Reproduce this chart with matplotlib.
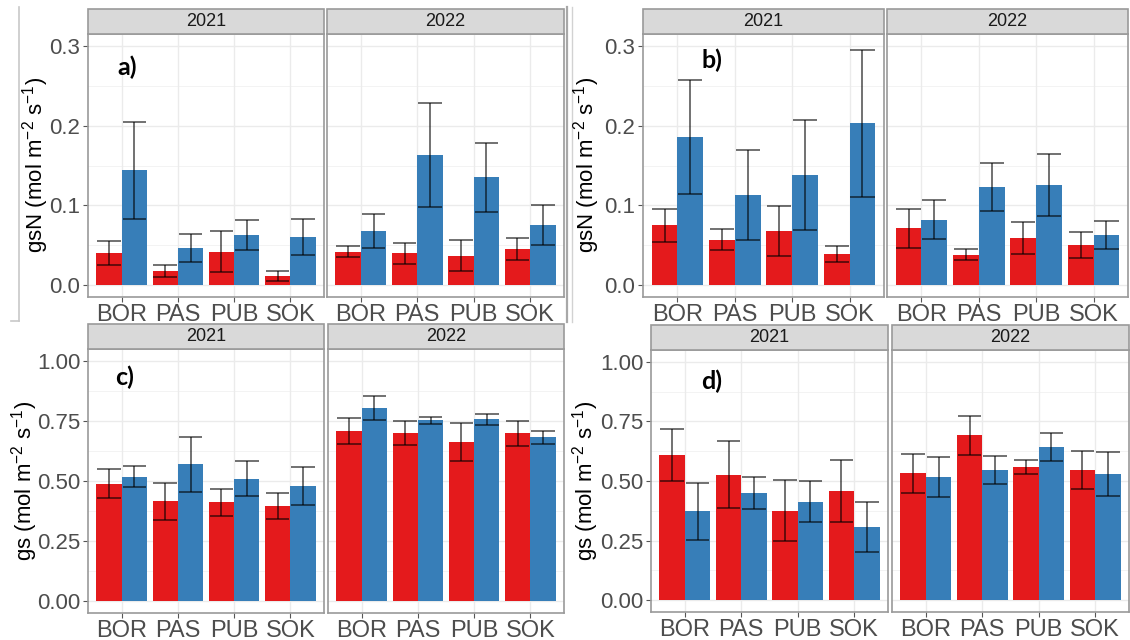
import matplotlib
matplotlib.use("Agg")
import matplotlib.pyplot as plt
from matplotlib.patches import Rectangle
from matplotlib.lines import Line2D
import numpy as np

plt.rcParams["font.family"] = ["Liberation Sans", "DejaVu Sans"]
plt.rcParams["mathtext.default"] = "regular"

# ---- data -------------------------------------------------------------
sites = ["BOR", "PAS", "PUB", "SOK"]
years = ["2021", "2022"]

# panel a: gsN
a_red_mean = {"2021": [0.040, 0.018, 0.042, 0.011], "2022": [0.042, 0.040, 0.037, 0.045]}
a_red_se = {"2021": [0.015, 0.0075, 0.026, 0.006], "2022": [0.0065, 0.013, 0.019, 0.0135]}
a_blue_mean = {"2021": [0.144, 0.046, 0.063, 0.060], "2022": [0.068, 0.163, 0.135, 0.075]}
a_blue_se = {"2021": [0.061, 0.0175, 0.019, 0.0225], "2022": [0.0215, 0.065, 0.0435, 0.025]}

# panel b: gsN
b_red_mean = {"2021": [0.075, 0.057, 0.068, 0.039], "2022": [0.071, 0.038, 0.059, 0.050]}
b_red_se = {"2021": [0.0205, 0.013, 0.0315, 0.0105], "2022": [0.025, 0.007, 0.0205, 0.016]}
b_blue_mean = {"2021": [0.186, 0.113, 0.138, 0.203], "2022": [0.082, 0.123, 0.126, 0.063]}
b_blue_se = {"2021": [0.0715, 0.056, 0.069, 0.0925], "2022": [0.0245, 0.030, 0.039, 0.0175]}

# panel c: gs
c_red_mean = {"2021": [0.489, 0.415, 0.411, 0.396], "2022": [0.708, 0.700, 0.663, 0.699]}
c_red_se = {"2021": [0.061, 0.0765, 0.055, 0.0525], "2022": [0.0535, 0.051, 0.0795, 0.0525]}
c_blue_mean = {"2021": [0.517, 0.569, 0.510, 0.479], "2022": [0.806, 0.753, 0.757, 0.683]}
c_blue_se = {"2021": [0.0435, 0.1145, 0.073, 0.081], "2022": [0.050, 0.014, 0.024, 0.027]}

# panel d: gs
d_red_mean = {"2021": [0.608, 0.526, 0.376, 0.459], "2022": [0.533, 0.692, 0.559, 0.547]}
d_red_se = {"2021": [0.109, 0.140, 0.128, 0.130], "2022": [0.0815, 0.082, 0.028, 0.0795]}
d_blue_mean = {"2021": [0.373, 0.449, 0.413, 0.306], "2022": [0.517, 0.547, 0.641, 0.529]}
d_blue_se = {"2021": [0.120, 0.0685, 0.086, 0.105], "2022": [0.0845, 0.060, 0.059, 0.091]}

gsn_ticks = [0.0, 0.1, 0.2, 0.3]
gsn_ticklabels = ["0.0", "0.1", "0.2", "0.3"]
gs_ticks = [0.0, 0.25, 0.5, 0.75, 1.0]
gs_ticklabels = ["0.00", "0.25", "0.50", "0.75", "1.00"]

RED = "#E41A1C"
BLUE = "#377EB8"

W, H = 1130, 640
fig = plt.figure(figsize=(W / 100, H / 100), dpi=100)
fig.patch.set_facecolor("white")


def fx(px):
    return px / W


def fy(py):
    return 1 - py / H


def draw_facet(x0, x1, ytop, ybot, strip_top, year, rm, rs, bm, bs,
               ylim, ticks, ticklabels, minor, show_y):
    ax = fig.add_axes([fx(x0), fy(ybot), fx(x1 - x0), (ybot - ytop) / H])
    ax.set_xlim(0.4, 4.6)
    ax.set_ylim(*ylim)
    ax.set_axisbelow(True)
    pos = np.arange(1, len(sites) + 1)
    for t in minor:
        ax.axhline(t, color="#F3F3F3", lw=0.7, zorder=0)
    for t in ticks:
        ax.axhline(t, color="#EBEBEB", lw=1.0, zorder=0)
    for p in pos:
        ax.axvline(p, color="#EBEBEB", lw=1.0, zorder=0)
    bw = 0.45
    for means, ses, col, off in ((rm, rs, RED, -bw / 2), (bm, bs, BLUE, bw / 2)):
        xs = pos + off
        ax.bar(xs, means, width=bw, color=col, edgecolor="none", zorder=2)
        m = np.asarray(means)
        s = np.asarray(ses)
        ax.vlines(xs, m - s, m + s, color="black", alpha=0.6, lw=1.3, zorder=3)
        ax.hlines(m - s, xs - 0.21, xs + 0.21, color="black", alpha=0.6, lw=1.3, zorder=3)
        ax.hlines(m + s, xs - 0.21, xs + 0.21, color="black", alpha=0.6, lw=1.3, zorder=3)
    ax.set_xticks(pos)
    ax.set_xticklabels(sites, fontsize=17, color="#4D4D4D")
    ax.set_yticks(ticks)
    if show_y:
        ax.set_yticklabels(ticklabels, fontsize=16, color="#4D4D4D")
        ax.tick_params(axis="y", length=3.5, width=0.8, color="#555555", pad=2)
    else:
        ax.tick_params(axis="y", length=0, labelleft=False)
    ax.tick_params(axis="x", length=3.5, width=0.8, color="#555555", pad=1.5)
    for sp in ax.spines.values():
        sp.set_color("#9A9A9A")
        sp.set_linewidth(1.2)
    # facet strip
    fig.patches.append(Rectangle((fx(x0), fy(ytop)), fx(x1 - x0), (ytop - strip_top) / H,
                                 transform=fig.transFigure, facecolor="#D9D9D9",
                                 edgecolor="#9A9A9A", lw=1.2, zorder=5))
    fig.text(fx((x0 + x1) / 2), fy((ytop + strip_top) / 2), year, ha="center", va="center",
             fontsize=13, color="#1A1A1A", zorder=6)
    return ax


gsn_lim = (-0.015, 0.315)
gs_lim = (-0.05, 1.05)
gsn_minor = [0.05, 0.15, 0.25]
gs_minor = [0.125, 0.375, 0.625, 0.875]

panels = [
    # facet x ranges, plot top, plot bottom, strip top, data, limits, label info
    (((88, 324), (327, 564)), 34, 297, 9, (a_red_mean, a_red_se, a_blue_mean, a_blue_se),
     gsn_lim, gsn_ticks, gsn_ticklabels, gsn_minor, "a)", (127, 67)),
    (((643, 884), (887, 1128)), 34, 297, 9, (b_red_mean, b_red_se, b_blue_mean, b_blue_se),
     gsn_lim, gsn_ticks, gsn_ticklabels, gsn_minor, "b)", (712, 60)),
    (((88, 324), (328, 564)), 349, 613, 324, (c_red_mean, c_red_se, c_blue_mean, c_blue_se),
     gs_lim, gs_ticks, gs_ticklabels, gs_minor, "c)", (125, 377)),
    (((651, 888), (892, 1129)), 350, 612, 325, (d_red_mean, d_red_se, d_blue_mean, d_blue_se),
     gs_lim, gs_ticks, gs_ticklabels, gs_minor, "d)", (712, 381)),
]

for facets, ytop, ybot, stop, data, lim, ticks, tlabels, minor, tag, tagpos in panels:
    rm, rs, bm, bs = data
    for i, (yr, (x0, x1)) in enumerate(zip(years, facets)):
        draw_facet(x0, x1, ytop, ybot, stop, yr, rm[yr], rs[yr], bm[yr], bs[yr],
                   lim, ticks, tlabels, minor, show_y=(i == 0))
    fig.text(fx(tagpos[0]), fy(tagpos[1]), tag, ha="center", va="center",
             fontsize=18, fontweight="bold", family=["Lato", "DejaVu Sans"], zorder=7)

ylab_gsn = "gsN (mol m$^{-2}$ s$^{-1}$)"
ylab_gs = "gs (mol m$^{-2}$ s$^{-1}$)"
fig.text(fx(36), fy(165), ylab_gsn, rotation=90, ha="center", va="center", fontsize=16, color="black")
fig.text(fx(587), fy(165), ylab_gsn, rotation=90, ha="center", va="center", fontsize=16, color="black")
fig.text(fx(25), fy(481), ylab_gs, rotation=90, ha="center", va="center", fontsize=16, color="black")
fig.text(fx(586), fy(481), ylab_gs, rotation=90, ha="center", va="center", fontsize=16, color="black")

# thin frame lines between the upper panels
for xs, ys, col, lw in (((19, 19), (7, 321), "#C8C8C8", 1.2),
                        ((11, 19), (321, 321), "#C8C8C8", 1.2),
                        ((566.5, 566.5), (7, 322), "#A8A8A8", 1.6),
                        ((571.5, 571.5), (7, 322), "#D2D2D2", 1.0)):
    fig.add_artist(Line2D([fx(x) for x in xs], [fy(y) for y in ys], color=col, lw=lw,
                          transform=fig.transFigure))

fig.savefig("out.png", dpi=100, facecolor="white")
